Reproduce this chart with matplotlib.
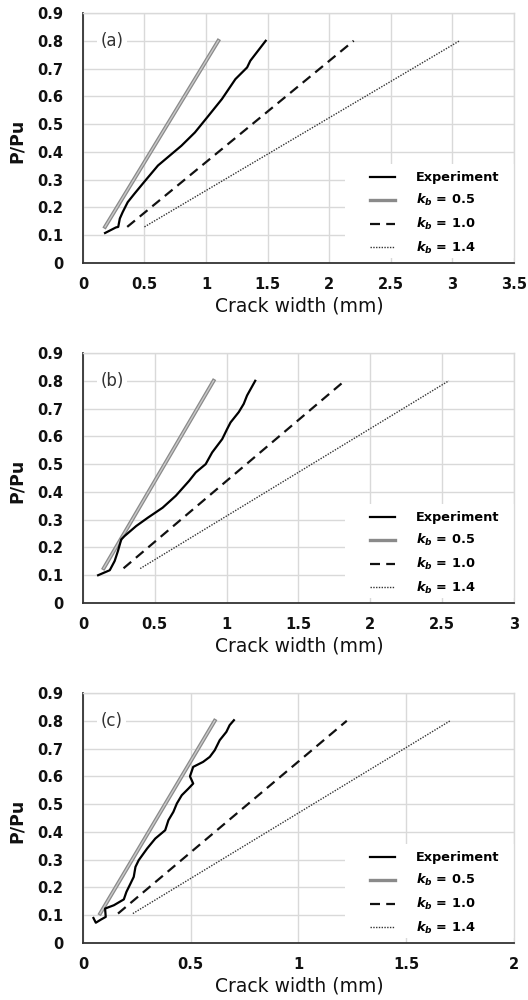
import matplotlib
matplotlib.use('Agg')
import matplotlib.pyplot as plt
from matplotlib.patches import Rectangle
import matplotlib.patheffects as pe

plt.rcParams['font.family'] = ['DejaVu Sans']
plt.rcParams['mathtext.fontset'] = 'dejavusans'

# ---------------- data ----------------
panel_names = ['(a)', '(b)', '(c)']
y_ticks = [0, 0.1, 0.2, 0.3, 0.4, 0.5, 0.6, 0.7, 0.8, 0.9]
y_tick_labels = ['0', '0.1', '0.2', '0.3', '0.4', '0.5', '0.6', '0.7', '0.8', '0.9']

x_ticks_a = [0, 0.5, 1, 1.5, 2, 2.5, 3, 3.5]
x_tick_labels_a = ['0', '0.5', '1', '1.5', '2', '2.5', '3', '3.5']
x_ticks_b = [0, 0.5, 1, 1.5, 2, 2.5, 3]
x_tick_labels_b = ['0', '0.5', '1', '1.5', '2', '2.5', '3']
x_ticks_c = [0, 0.5, 1, 1.5, 2]
x_tick_labels_c = ['0', '0.5', '1', '1.5', '2']

# Panel (a)
exp_a_x = [0.18, 0.268, 0.287, 0.30, 0.323, 0.364, 0.418, 0.50, 0.61, 0.80, 0.91, 1.02, 1.129, 1.239, 1.334, 1.36, 1.485]
exp_a_y = [0.108, 0.128, 0.13, 0.16, 0.183, 0.219, 0.249, 0.293, 0.351, 0.422, 0.47, 0.53, 0.59, 0.662, 0.704, 0.728, 0.80]
kb05_a_x = [0.18, 1.10]
kb05_a_y = [0.13, 0.80]
kb10_a_x = [0.36, 2.20]
kb10_a_y = [0.13, 0.80]
kb14_a_x = [0.50, 3.06]
kb14_a_y = [0.13, 0.80]

# Panel (b)
exp_b_x = [0.106, 0.187, 0.221, 0.244, 0.267, 0.29, 0.371, 0.452, 0.555, 0.647, 0.74, 0.786, 0.855, 0.90, 0.97, 1.005, 1.028, 1.085, 1.12, 1.143, 1.20]
exp_b_y = [0.10, 0.118, 0.151, 0.187, 0.229, 0.241, 0.277, 0.307, 0.343, 0.386, 0.44, 0.47, 0.50, 0.542, 0.59, 0.627, 0.65, 0.687, 0.717, 0.747, 0.80]
kb05_b_x = [0.145, 0.91]
kb05_b_y = [0.125, 0.80]
kb10_b_x = [0.283, 1.823]
kb10_b_y = [0.125, 0.80]
kb14_b_x = [0.399, 2.548]
kb14_b_y = [0.124, 0.80]

# Panel (c)
exp_c_x = [0.049, 0.06, 0.083, 0.106, 0.103, 0.144, 0.19, 0.202, 0.221, 0.236, 0.244, 0.259, 0.298, 0.336, 0.382, 0.397, 0.42, 0.436, 0.459, 0.49, 0.512, 0.497, 0.512, 0.558, 0.589, 0.612, 0.635, 0.666, 0.681, 0.701]
exp_c_y = [0.09, 0.073, 0.084, 0.094, 0.124, 0.136, 0.157, 0.184, 0.214, 0.238, 0.274, 0.298, 0.34, 0.376, 0.406, 0.442, 0.472, 0.502, 0.532, 0.556, 0.574, 0.60, 0.634, 0.652, 0.67, 0.694, 0.73, 0.76, 0.784, 0.802]
kb05_c_x = [0.08, 0.612]
kb05_c_y = [0.106, 0.80]
kb10_c_x = [0.163, 1.225]
kb10_c_y = [0.106, 0.80]
kb14_c_x = [0.232, 1.705]
kb14_c_y = [0.106, 0.80]

legend_labels = ['Experiment', r'$\mathbfit{k_b}$ = 0.5', r'$\mathbfit{k_b}$ = 1.0', r'$\mathbfit{k_b}$ = 1.4']
x_label = 'Crack width (mm)'
y_label = 'P/Pu'

# ---------------- figure ----------------
fig = plt.figure(figsize=(5.28, 10), dpi=100)

panels = [
    (0.737, 3.5, x_ticks_a, x_tick_labels_a, exp_a_x, exp_a_y, kb05_a_x, kb05_a_y, kb10_a_x, kb10_a_y, kb14_a_x, kb14_a_y),
    (0.397, 3.0, x_ticks_b, x_tick_labels_b, exp_b_x, exp_b_y, kb05_b_x, kb05_b_y, kb10_b_x, kb10_b_y, kb14_b_x, kb14_b_y),
    (0.057, 2.0, x_ticks_c, x_tick_labels_c, exp_c_x, exp_c_y, kb05_c_x, kb05_c_y, kb10_c_x, kb10_c_y, kb14_c_x, kb14_c_y),
]

grid_c = '#d9d9d9'
for i, (bottom, xmax, xt, xtl, ex, ey, k5x, k5y, k10x, k10y, k14x, k14y) in enumerate(panels):
    ax = fig.add_axes([0.157, bottom, 0.816, 0.25])
    ax.set_xlim(0, xmax)
    ax.set_ylim(0, 0.9)
    ax.set_xticks(xt)
    ax.set_xticklabels(xtl)
    ax.set_yticks(y_ticks)
    ax.set_yticklabels(y_tick_labels)
    ax.grid(True, color=grid_c, lw=1.0)
    ax.set_axisbelow(True)
    for s in ['top', 'right']:
        ax.spines[s].set_color(grid_c)
        ax.spines[s].set_linewidth(1.0)
    for s in ['left', 'bottom']:
        ax.spines[s].set_color('#333333')
        ax.spines[s].set_linewidth(1.3)
    ax.tick_params(axis='both', length=0, labelsize=10.5, colors='#111111')
    ax.tick_params(axis='y', pad=14)
    ax.tick_params(axis='x', pad=10)
    for lab in ax.get_xticklabels() + ax.get_yticklabels():
        lab.set_fontweight('bold')

    ax.set_xlabel(x_label, fontsize=13.5, color='#111111')
    ax.xaxis.set_label_coords(0.503, -0.132)
    ax.set_ylabel(y_label, fontsize=12.5, fontweight='bold', color='#111111')
    ax.yaxis.set_label_coords(-0.132, 0.49)

    # white legend background covering the grid
    ax.add_patch(Rectangle((0.608, 0.02), 0.392, 0.375, transform=ax.transAxes,
                           facecolor='white', edgecolor='none', zorder=1.5))

    l05, = ax.plot(k5x, k5y, color='#c9c9c9', lw=1.0, zorder=3,
                   path_effects=[pe.Stroke(linewidth=2.8, foreground='#8a8a8a'), pe.Normal()])
    l10, = ax.plot(k10x, k10y, color='#111111', lw=1.6, linestyle=(0, (4.5, 2.8)), zorder=3)
    l14, = ax.plot(k14x, k14y, color='#333333', lw=1.0, linestyle=(0, (1, 1)), zorder=3)
    le, = ax.plot(ex, ey, color='#000000', lw=1.6, zorder=4)

    ax.text(0.04, 0.8 / 0.9, panel_names[i], transform=ax.transAxes, fontsize=12,
            color='#333333', va='center', ha='left',
            bbox=dict(facecolor='white', edgecolor='none', pad=2.5), zorder=2)

    h05 = plt.Line2D([], [], color='#8a8a8a', lw=2.4)
    leg = ax.legend([le, h05, l10, l14], legend_labels, loc='center left',
                    bbox_to_anchor=(0.652, 0.197), frameon=False,
                    prop={'weight': 'bold', 'size': 9.3}, borderpad=0,
                    handlelength=1.9, handletextpad=1.65, labelspacing=0.6)
    leg.set_zorder(5)

fig.savefig('out.png', dpi=100)
